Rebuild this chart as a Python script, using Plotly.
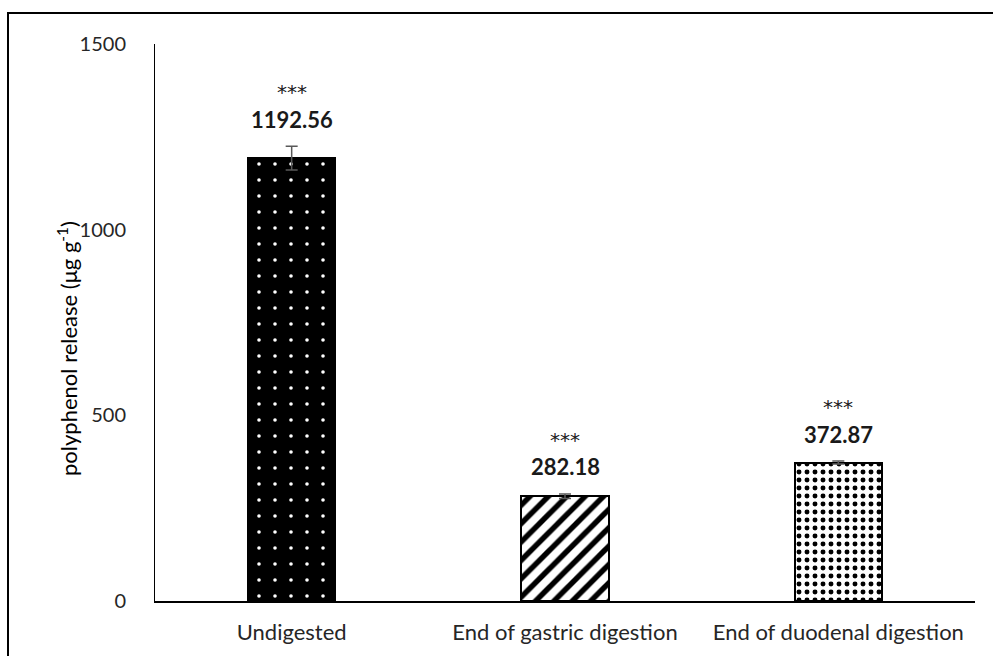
import plotly.graph_objects as go

# Polyphenol release across digestion stages
categories = ["Undigested", "End of gastric digestion", "End of duodenal digestion"]
values = [1192.56, 282.18, 372.87]
errors = [32, 6, 4]
significance = ["***", "***", "***"]
y_ticks = [0, 500, 1000, 1500]

FONT = "Lato"
W, H = 993, 656
ML, MR, MT, MB = 155, 18, 44, 55

patterns = [
    dict(shape=".", fgcolor="white", bgcolor="black", size=16, solidity=0.04, fillmode="replace"),
    dict(shape="/", fgcolor="black", bgcolor="white", size=13, solidity=0.42, fillmode="replace"),
    dict(shape=".", fgcolor="black", bgcolor="white", size=8, solidity=0.3, fillmode="replace"),
]

fig = go.Figure()
for cat, val, err, pat in zip(categories, values, errors, patterns):
    fig.add_trace(go.Bar(
        x=[cat], y=[val],
        width=0.32,
        marker=dict(color=pat["bgcolor"], line=dict(color="black", width=2), pattern=pat),
        error_y=dict(type="data", array=[err], color="#595959", thickness=1.5, width=6),
        showlegend=False,
    ))

for cat, val, err, sig in zip(categories, values, errors, significance):
    fig.add_annotation(x=cat, y=val + err, text=f"<b>{val:.2f}</b>", showarrow=False,
                       yanchor="middle", yshift=27, font=dict(family=FONT, size=22, color="#1a1a1a"))
    fig.add_annotation(x=cat, y=val + err, text=sig, showarrow=False,
                       yanchor="middle", yshift=54, font=dict(family="DejaVu Sans", size=20, color="#1a1a1a"))

pw = W - ML - MR
ph = H - MT - MB

# y-axis title
fig.add_annotation(xref="paper", yref="paper", x=(68 - ML) / pw, y=(H - MB - 349) / ph,
                   text="polyphenol release (μg g<sup>-1</sup>)", textangle=-90, showarrow=False,
                   xanchor="center", yanchor="middle", font=dict(family=FONT, size=22, color="black"))

# outer frame
fig.add_shape(type="rect", xref="paper", yref="paper",
              x0=(8 - ML) / pw, y0=-1, x1=2, y1=1 + (MT - 13) / ph,
              line=dict(color="black", width=2), layer="above")

fig.update_layout(
    width=W, height=H,
    margin=dict(l=ML, r=MR, t=MT, b=MB),
    plot_bgcolor="white", paper_bgcolor="white",
    bargap=0,
    font=dict(family=FONT, size=20, color="#262626"),
    xaxis=dict(showline=True, linecolor="black", linewidth=2, ticks="", showgrid=False,
               ticklabelstandoff=11, tickfont=dict(size=22, color="#262626")),
    yaxis=dict(range=[0, 1500], tickvals=y_ticks, showline=True, linecolor="black", linewidth=1,
               ticks="", showgrid=False, zeroline=False, ticklabelstandoff=24,
               tickfont=dict(size=20, color="#262626")),
)

fig.write_html("out.html")
